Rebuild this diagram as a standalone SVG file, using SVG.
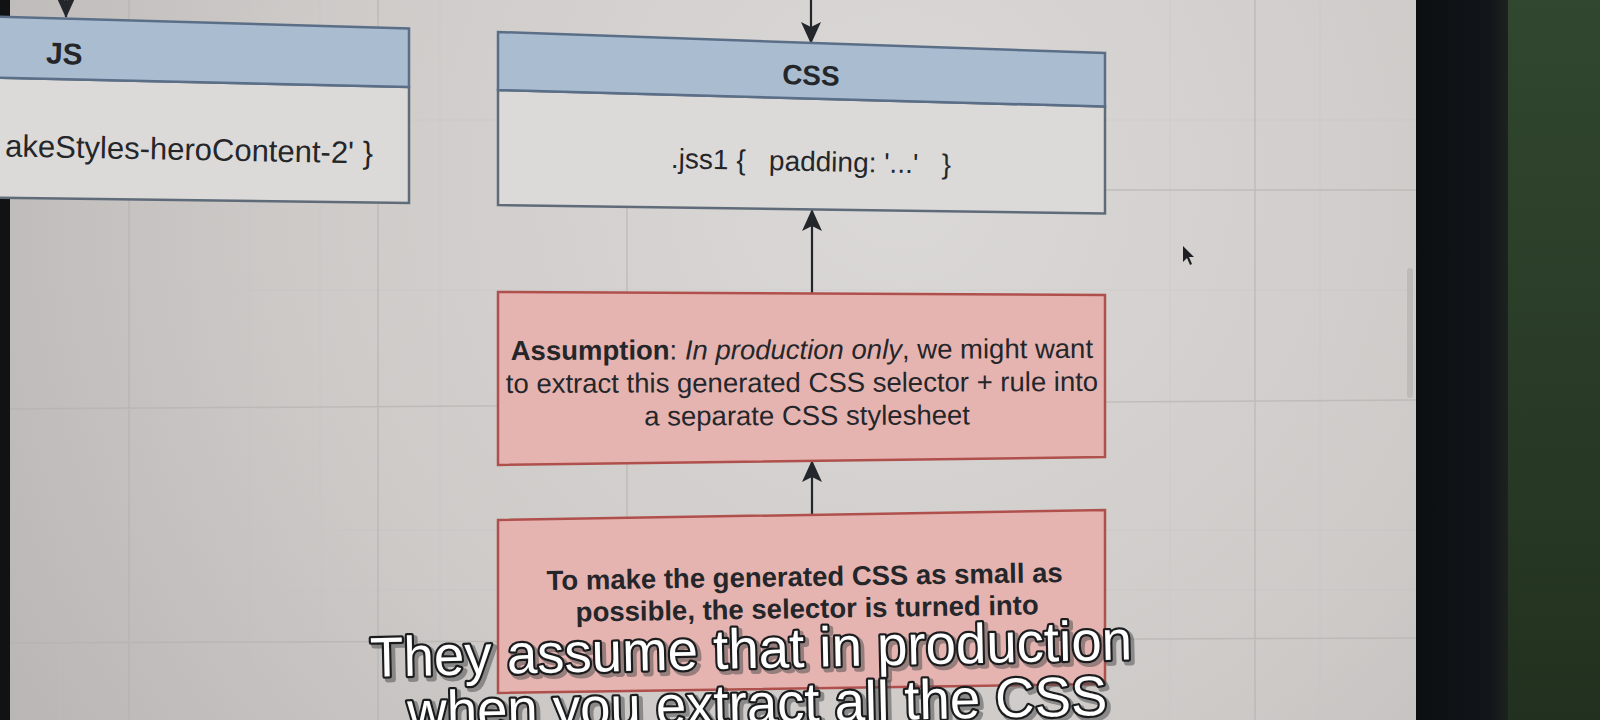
<svg xmlns="http://www.w3.org/2000/svg" width="1600" height="720" viewBox="0 0 1600 720">
<defs>
<radialGradient id="bg" cx="900" cy="180" r="1100" gradientUnits="userSpaceOnUse">
<stop offset="0" stop-color="#dbd9d7"/>
<stop offset="0.55" stop-color="#cdcac8"/>
<stop offset="1" stop-color="#b7b3b2"/>
</radialGradient>
<linearGradient id="green" x1="0" y1="0" x2="0" y2="1">
<stop offset="0" stop-color="#31472f"/>
<stop offset="1" stop-color="#22311f"/>
</linearGradient>
<linearGradient id="bezel" x1="0" y1="0" x2="1" y2="0">
<stop offset="0" stop-color="#0c0f12"/>
<stop offset="0.8" stop-color="#121519"/>
<stop offset="1" stop-color="#1d2220"/>
</linearGradient>
<marker id="arrow" viewBox="0 0 22 20" refX="21" refY="10" markerWidth="22" markerHeight="20" markerUnits="userSpaceOnUse" orient="auto">
<path d="M0,0 L22,10 L0,20 L5,10 z" fill="#23262b"/>
</marker>
</defs>
<style>
.grid{stroke:#b3b0ae;stroke-width:1.5;fill:none;opacity:0.6}
.minor{stroke:#c4c1bf;stroke-width:1;fill:none;opacity:0.3}
.head{fill:#aabdd0;stroke:#5a6f87;stroke-width:2.5}
.body{fill:#dcdad8;stroke:#5f6b78;stroke-width:2.5}
.note{fill:#e5b4b1;stroke:#b0504c;stroke-width:2.5}
.t{font-family:"Liberation Sans",Arial,Helvetica,sans-serif;fill:#24262a}
.b{font-weight:bold}
.conn{stroke:#23262b;stroke-width:2.2;fill:none}
.sub{font-family:"Liberation Sans",Arial,sans-serif;font-size:56px;text-anchor:middle}
.subshadow{fill:#4a4a4a;stroke:#4a4a4a;stroke-width:6;opacity:0.5;stroke-linejoin:round}
.subtext{fill:#ffffff;stroke:#1b1c1e;stroke-width:4.5;paint-order:stroke;stroke-linejoin:round}
</style>

<!-- screen background -->
<rect x="0" y="0" width="1416" height="720" fill="url(#bg)"/>
<g id="grid">
<path class="minor" d="M60 0V720 M190 0V720 M250 0V720 M320 0V720 M440 0V720 M1170 0V720 M1320 0V720 M0 290H1416 M0 530H1416 M0 590H1416 M0 120H1416"/>
<path class="grid" d="M129 0V720 M378 0V720 M1255 0V720 M627 205V300 M627 460V520 M0 409L1416 400 M0 643L1416 638 M1105 190L1416 190"/>
</g>

<!-- scrollbar and cursor -->
<rect x="1407" y="268" width="6" height="130" rx="3" fill="#bdbab8"/>
<path d="M1183,246 L1183,262 L1187,258 L1190,265 L1192,264 L1189,257 L1194,257 Z" fill="#1d1f22"/>

<!-- bezels and background -->
<rect x="0" y="0" width="10" height="720" fill="#101214"/>
<rect x="1416" y="0" width="92" height="720" fill="url(#bezel)"/>
<rect x="1508" y="0" width="92" height="720" fill="url(#green)"/>

<!-- connectors -->
<g id="connectors">
<line class="conn" x1="66" y1="-12" x2="66" y2="17" marker-end="url(#arrow)"/>
<line class="conn" x1="811" y1="-12" x2="811" y2="43" marker-end="url(#arrow)"/>
<line class="conn" x1="812" y1="293" x2="812" y2="210" marker-end="url(#arrow)"/>
<line class="conn" x1="812" y1="515" x2="812" y2="461" marker-end="url(#arrow)"/>
</g>

<!-- JS node -->
<g id="node-js">
<polygon class="body" points="-20,77.3 409,87 409,203 -20,197.6"/>
<polygon class="head" points="-20,16.1 409,28.5 409,87 -20,77.3"/>
<text class="t b" x="46" y="64" font-size="30" transform="rotate(1.9 65 53)">JS</text>
<text class="t" x="373" y="160" font-size="31" text-anchor="end" transform="rotate(1.1 190 149)">akeStyles-heroContent-2' }</text>
</g>

<!-- CSS node -->
<g id="node-css">
<polygon class="body" points="498,90 1105,106.5 1105,213.5 498,205"/>
<polygon class="head" points="498,32 1105,53 1105,106.5 498,90"/>
<text class="t b" x="811" y="85" font-size="28" text-anchor="middle" transform="rotate(1.8 811 75)">CSS</text>
<text class="t" x="811" y="171" font-size="28" text-anchor="middle" transform="rotate(1.2 811 161)">.jss1 {&#160;&#160; padding: '...'&#160;&#160; }</text>
</g>

<!-- Assumption node -->
<g id="node-assumption">
<polygon class="note" points="498,292 1105,295 1105,457 498,465"/>
<g transform="rotate(-0.2 802 387)">
<text class="t" x="802" y="359" font-size="27.5" text-anchor="middle"><tspan font-weight="bold">Assumption</tspan>: <tspan font-style="italic">In production only</tspan>, we might want</text>
<text class="t" x="802" y="392" font-size="27.5" text-anchor="middle">to extract this generated CSS selector + rule into</text>
<text class="t" x="807" y="425" font-size="27.5" text-anchor="middle">a separate CSS stylesheet</text>
</g>
</g>

<!-- Minify node -->
<g id="node-minify">
<polygon class="note" points="498,520 1105,510 1105,684 498,693"/>
<g transform="rotate(-0.9 806 597)">
<text class="t b" x="805" y="586" font-size="27.5" text-anchor="middle">To make the generated CSS as small as</text>
<text class="t b" x="807" y="618" font-size="27.5" text-anchor="middle">possible, the selector is turned into</text>
</g>
</g>

<!-- subtitles -->
<g id="subtitles" transform="rotate(-1.3 755 690)">
<text class="sub subshadow" x="755" y="671" textLength="762" lengthAdjust="spacingAndGlyphs">They assume that in production</text>
<text class="sub subtext" x="752" y="668" textLength="762" lengthAdjust="spacingAndGlyphs">They assume that in production</text>
<text class="sub subshadow" x="760" y="726" textLength="700" lengthAdjust="spacingAndGlyphs">when you extract all the CSS</text>
<text class="sub subtext" x="757" y="723" textLength="700" lengthAdjust="spacingAndGlyphs">when you extract all the CSS</text>
</g>
</svg>
